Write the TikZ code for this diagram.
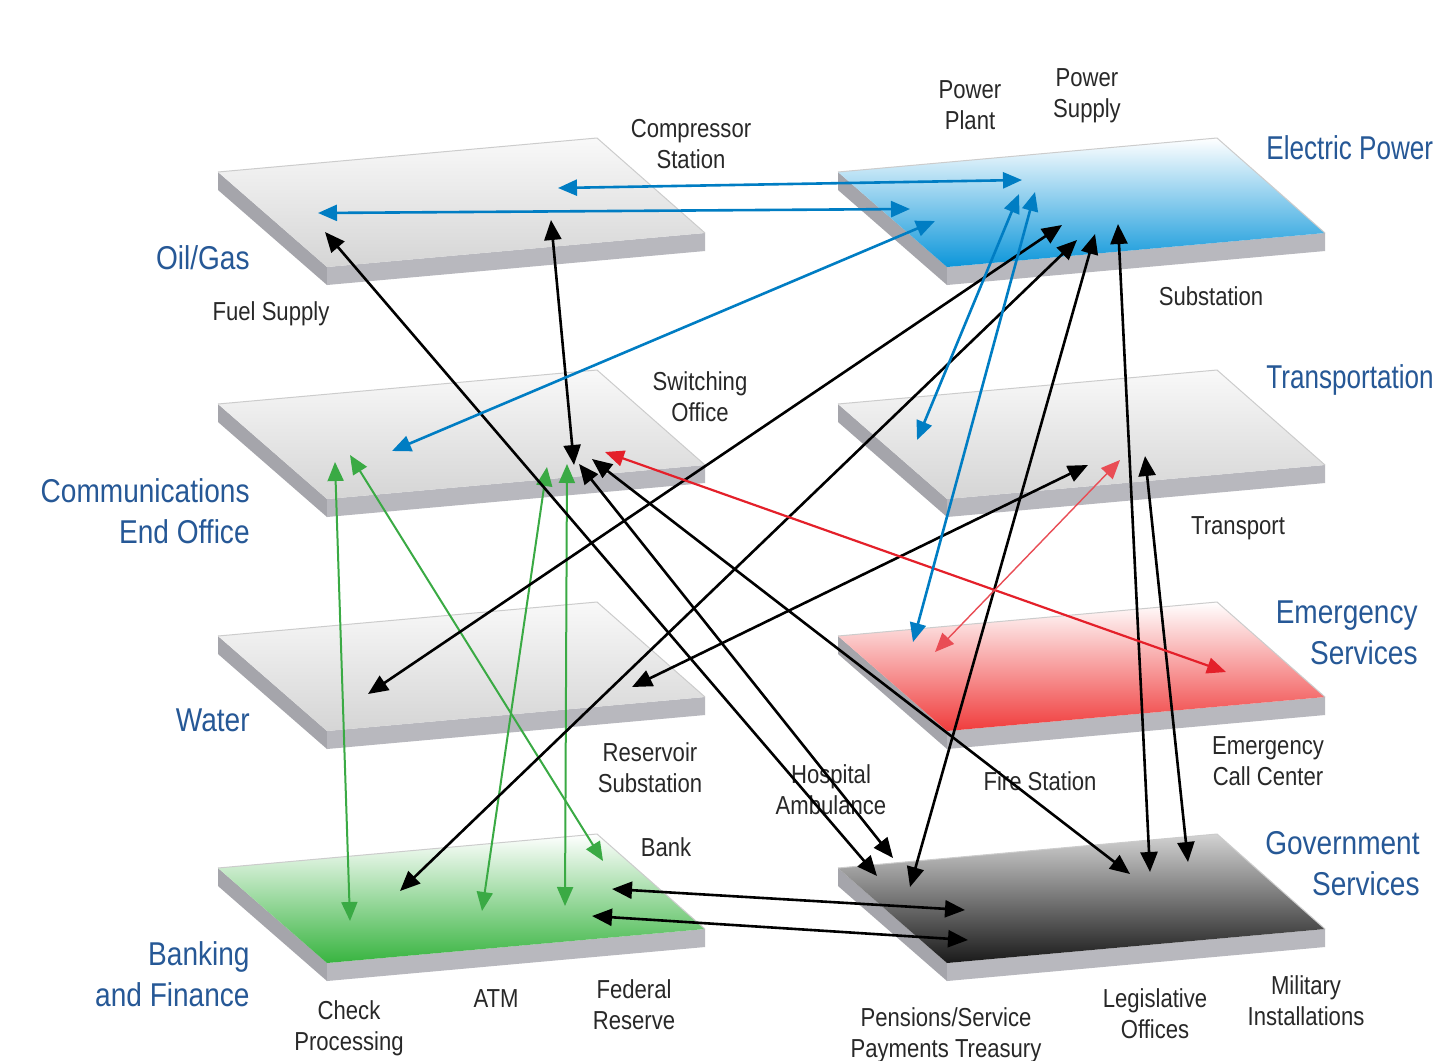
\documentclass[tikz,border=0pt]{standalone}
\usepackage{fontspec}
\setmainfont{Liberation Sans}[FakeStretch=0.85]
\usetikzlibrary{arrows.meta}
\definecolor{lblue}{RGB}{38,88,150}
\definecolor{txt}{RGB}{40,40,40}
\definecolor{ablue}{RGB}{0,125,195}
\definecolor{ared}{RGB}{228,32,42}
\definecolor{agreen}{RGB}{58,170,68}
\definecolor{eblue}{RGB}{12,150,218}
\definecolor{eblueM}{RGB}{150,210,240}
\definecolor{ered}{RGB}{240,60,60}
\definecolor{eredM}{RGB}{250,195,190}
\definecolor{bgreen}{RGB}{56,180,64}
\definecolor{bgreenM}{RGB}{195,232,190}
\definecolor{sideLc}{RGB}{165,165,171}
\definecolor{sideFc}{RGB}{184,184,190}
\newcommand\platformdraw[3]{%
  \begin{scope}[shift={(#1,#2)}]
    \fill[sideLc] (0,0) -- (109,95) -- (109,113) -- (0,18) -- cycle;
    \fill[sideFc] (109,95) -- (487,61) -- (487,79) -- (109,113) -- cycle;
    \shade[#3] (0,0) -- (379,-34) -- (487,61) -- (109,95) -- cycle;
    \draw[gray!40, line width=0.5pt] (0,0) -- (379,-34) -- (487,61);
  \end{scope}}
\begin{document}
\begin{tikzpicture}[x=0.5pt,y=-0.5pt,
  lab/.style={text=txt, font=\fontsize{13pt}{15.5pt}\selectfont, align=center, inner sep=0pt},
  cat/.style={text=lblue, font=\fontsize{16.5pt}{20.5pt}\selectfont, inner sep=0pt},
  blk/.style={draw=black, line width=1.3pt, {Triangle[length=10pt,width=8.5pt]}-{Triangle[length=10pt,width=8.5pt]}},
  blu/.style={draw=ablue, line width=1.3pt, {Triangle[length=9.5pt,width=8pt]}-{Triangle[length=9.5pt,width=8pt]}},
  grn/.style={draw=agreen, line width=1pt, {Triangle[length=9.5pt,width=8pt]}-{Triangle[length=9.5pt,width=8pt]}},
  rd/.style={draw=ared, line width=1.1pt, {Triangle[length=9.5pt,width=8pt]}-{Triangle[length=9.5pt,width=8pt]}},
  rdthin/.style={draw=ared!80, line width=0.7pt, {Triangle[length=9.5pt,width=8pt]}-{Triangle[length=9.5pt,width=8pt]}},
  graytop/.style={top color=gray!5, bottom color=gray!33},
]
\useasboundingbox (0,0) rectangle (1443,1060);
\clip (0,0) rectangle (1443,1060);
\fill[white] (0,0) rectangle (1443,1060);

% platforms
\platformdraw{218}{172}{graytop}
\platformdraw{218}{404}{graytop}
\platformdraw{218}{636}{graytop}
\platformdraw{218}{868}{top color=white, middle color=bgreenM, bottom color=bgreen}
\platformdraw{838}{172}{top color=white, middle color=eblueM, bottom color=eblue}
\platformdraw{838}{404}{graytop}
\platformdraw{838}{636}{top color=white, middle color=eredM, bottom color=ered}
\platformdraw{838}{868}{top color=gray!35, middle color=gray!70, bottom color=black!90}

% category labels
\node[cat, anchor=east] (oilgas) at (250,258) {Oil/Gas};
\node[cat, anchor=east, align=right] (comms) at (250,511) {Communications\\End Office};
\node[cat, anchor=east] (water) at (250,720) {Water};
\node[cat, anchor=east, align=right] (banking) at (250,974) {Banking\\and Finance};
\node[cat, anchor=west] (electric) at (1266,148) {\scalebox{0.93}[1]{Electric Power}};
\node[cat, anchor=west] (transp) at (1266,380) {\scalebox{0.93}[1]{Transportation}};
\node[cat, anchor=east, align=right] (emerg) at (1418,633) {Emergency\\Services};
\node[cat, anchor=east, align=right] (govt) at (1420,864) {Government\\Services};

% facility labels
\node[lab] (compressor) at (691,144) {Compressor\\Station};
\node[lab] (powerplant) at (970,105) {Power\\Plant};
\node[lab] (powersupply) at (1087,96) {Power\\Supply};
\node[lab] (substation) at (1211,296) {Substation};
\node[lab] (fuelsupply) at (271,314) {Fuel Supply};
\node[lab] (switching) at (700,397) {Switching\\Office};
\node[lab] (transport) at (1238,528) {Transport};
\node[lab] (reservoir) at (650,768) {Reservoir\\Substation};
\node[lab] (hospital) at (831,790) {Hospital\\Ambulance};
\node[lab] (fire) at (1040,781) {Fire Station};
\node[lab] (callcenter) at (1268,761) {Emergency\\Call Center};
\node[lab] (bank) at (666,847) {Bank};
\node[lab] (check) at (349,1028) {Check\\Processing};
\node[lab] (atm) at (496,999) {ATM};
\node[lab] (federal) at (634,1005) {Federal\\Reserve};
\node[lab] (pensions) at (946,1035) {Pensions/Service\\Payments Treasury};
\node[lab] (legis) at (1155,1014) {Legislative\\Offices};
\node[lab] (military) at (1306,1001) {Military\\Installations};

% connector end points
\coordinate (csL) at (558,188);   \coordinate (ppR) at (1022,180);
\coordinate (fsL) at (318,213);   \coordinate (elA) at (910,209);
\coordinate (coB) at (392,451);   \coordinate (elB) at (935,221);
\coordinate (elC) at (1019,194);  \coordinate (trB) at (917,440);
\coordinate (elD) at (1035,192);  \coordinate (emB) at (913,642);

\coordinate (oilV) at (551,220);  \coordinate (swV) at (574,465);
\coordinate (oilD) at (325,232);  \coordinate (hosA) at (877,876);
\coordinate (swA) at (579,464);   \coordinate (hosB) at (893,858);
\coordinate (swB) at (592,459);   \coordinate (fireG) at (1130,874);
\coordinate (watL) at (368,694);  \coordinate (elE) at (1062,225);
\coordinate (bkL) at (400,891);   \coordinate (elF) at (1077,240);
\coordinate (watR) at (632,687);  \coordinate (trC) at (1088,465);
\coordinate (govP) at (910,887);  \coordinate (elG) at (1095,234);
\coordinate (govL) at (1150,872); \coordinate (elH) at (1118,224);
\coordinate (trD) at (1145,456);  \coordinate (govM) at (1188,862);
\coordinate (bankE) at (612,889); \coordinate (govQ) at (965,910);
\coordinate (fedE) at (592,916);  \coordinate (govR) at (968,940);

\coordinate (swR) at (605,452);   \coordinate (emCall) at (1226,672);
\coordinate (trR) at (1120,460);  \coordinate (emR) at (935,652);

\coordinate (coG1) at (335,462);  \coordinate (bfG1) at (350,921);
\coordinate (coG2) at (350,455);  \coordinate (bfG2) at (603,861);
\coordinate (coG3) at (547,467);  \coordinate (bfG3) at (482,911);
\coordinate (coG4) at (567,464);  \coordinate (bfG4) at (565,906);

% green
\draw[grn] (coG1) -- (bfG1);
\draw[grn] (coG2) -- (bfG2);
\draw[grn] (coG3) -- (bfG3);
\draw[grn] (coG4) -- (bfG4);

% black
\draw[blk] (oilV) -- (swV);
\draw[blk] (oilD) -- (hosA);
\draw[blk] (swA) -- (hosB);
\draw[blk] (swB) -- (fireG);
\draw[blk] (watL) -- (elE);
\draw[blk] (bkL) -- (elF);
\draw[blk] (watR) -- (trC);
\draw[blk] (govP) -- (elG);
\draw[blk] (govL) -- (elH);
\draw[blk] (trD) -- (govM);
\draw[blk] (bankE) -- (govQ);
\draw[blk] (fedE) -- (govR);

% red
\draw[rd] (swR) -- (emCall);
\draw[rdthin] (trR) -- (emR);

% blue
\draw[blu] (csL) -- (ppR);
\draw[blu] (fsL) -- (elA);
\draw[blu] (coB) -- (elB);
\draw[blu] (elC) -- (trB);
\draw[blu] (elD) -- (emB);
\end{tikzpicture}
\end{document}
